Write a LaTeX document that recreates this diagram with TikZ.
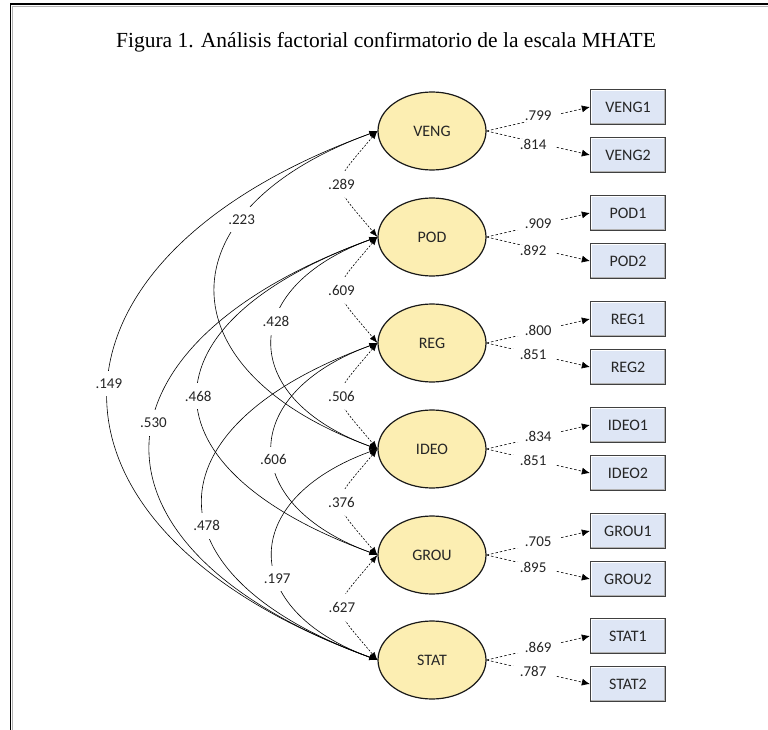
\documentclass[tikz,border=0pt]{standalone}
\usepackage{fontspec}
\setsansfont{Carlito}
\newfontfamily\titlefont{Liberation Serif}
\usepackage{tikz}
\usetikzlibrary{arrows.meta,positioning,shapes.geometric}
\definecolor{factorfill}{RGB}{252,238,178}
\definecolor{itemfill}{RGB}{222,230,245}
\tikzset{
	factor/.style={ellipse,draw=black!90,line width=1.2pt,fill=factorfill,minimum width=108pt,minimum height=78pt,inner sep=0pt,font=\fontsize{16}{18}\sffamily,text=black!85},
	item/.style={rectangle,draw=black!75,line width=1.3pt,fill=itemfill,minimum width=75pt,minimum height=35pt,inner sep=0pt,font=\fontsize{16}{18}\sffamily,text=black!85,
		path picture={
			\draw[white,line width=3pt] (path picture bounding box.south west) -- (path picture bounding box.north west) -- (path picture bounding box.north east);
			\draw[black!30,line width=3pt] (path picture bounding box.north east) -- (path picture bounding box.south east) -- (path picture bounding box.south west);
		}},
	loading/.style={->,>={Latex[length=8pt,width=7pt]},dash pattern=on 2.5pt off 2pt,line width=0.6pt},
	cov/.style={<->,>={Latex[length=8pt,width=6pt]},line width=0.6pt,out=200,in=160},
	adjcov/.style={cov,dash pattern=on 2pt off 1.5pt,out=230,in=130,looseness=1.8},
	coeflabel/.style={fill=white,font=\fontsize{15}{18}\sffamily,text=black!85,inner xsep=2pt,inner ysep=8pt},
	loadlabel/.style={fill=white,font=\fontsize{15}{18}\sffamily,text=black!85,inner xsep=9pt,inner ysep=1pt},
	figtitle/.style={font=\fontsize{21.5}{25}\titlefont}
}
\begin{document}
\begin{tikzpicture}[x=1pt,y=1pt]
	\useasboundingbox (0,0) rectangle (768,-730);
	%%% frame
	\draw[line width=1.5pt] (10.5,-730) -- (10.5,-4) -- (768,-4);
	\draw[black!30,line width=0.8pt] (12.5,-730) -- (12.5,-6.5) -- (768,-6.5);
	\node[figtitle] (title) at (386,-42) {Figura 1. Análisis factorial confirmatorio de la escala MHATE};

	%%% factors
	\node[factor] (veng) at (432,-131) {VENG};
	\node[factor] (pod) at (432,-237) {POD};
	\node[factor] (reg) at (432,-343) {REG};
	\node[factor] (ideo) at (432,-449) {IDEO};
	\node[factor] (grou) at (432,-555) {GROU};
	\node[factor] (stat) at (432,-660) {STAT};

	%%% items
	\node[item] (veng1) at (628,-107) {VENG1};
	\node[item] (veng2) at (628,-155) {VENG2};
	\node[item] (pod1) at (628,-213) {POD1};
	\node[item] (pod2) at (628,-261) {POD2};
	\node[item] (reg1) at (628,-319) {REG1};
	\node[item] (reg2) at (628,-367) {REG2};
	\node[item] (ideo1) at (628,-425) {IDEO1};
	\node[item] (ideo2) at (628,-473) {IDEO2};
	\node[item] (grou1) at (628,-531) {GROU1};
	\node[item] (grou2) at (628,-579) {GROU2};
	\node[item] (stat1) at (628,-636) {STAT1};
	\node[item] (stat2) at (628,-684) {STAT2};

	%%% loadings
	\draw[loading] (veng.east) -- node[loadlabel,yshift=3pt] {.799} (veng1.west);
	\draw[loading] (veng.east) -- node[loadlabel,pos=.45,yshift=-3pt] {.814} (veng2.west);
	\draw[loading] (pod.east) -- node[loadlabel,yshift=1pt] {.909} (pod1.west);
	\draw[loading] (pod.east) -- node[loadlabel,pos=.45,yshift=-3pt] {.892} (pod2.west);
	\draw[loading] (reg.east) -- node[loadlabel,yshift=1pt] {.800} (reg1.west);
	\draw[loading] (reg.east) -- node[loadlabel,pos=.45,yshift=-1pt] {.851} (reg2.west);
	\draw[loading] (ideo.east) -- node[loadlabel,yshift=1pt] {.834} (ideo1.west);
	\draw[loading] (ideo.east) -- node[loadlabel,pos=.45,yshift=-1pt] {.851} (ideo2.west);
	\draw[loading] (grou.east) -- node[loadlabel,yshift=1pt] {.705} (grou1.west);
	\draw[loading] (grou.east) -- node[loadlabel,pos=.45,yshift=-2pt] {.895} (grou2.west);
	\draw[loading] (stat.east) -- node[loadlabel,yshift=1pt] {.869} (stat1.west);
	\draw[loading] (stat.east) -- node[loadlabel,pos=.45,yshift=-1pt] {.787} (stat2.west);

	%%% covariances
	\draw[cov,looseness=1.85] (veng.west) to node[coeflabel,pos=.48] {.149} (stat.west);
	\draw[cov,looseness=1.95] (pod.west) to node[coeflabel,pos=.445] {.530} (stat.west);
	\draw[cov,looseness=1.85] (veng.west) to node[coeflabel,pos=.3] {.223} (ideo.west);
	\draw[cov,looseness=2.05] (pod.west) to node[coeflabel,pos=.5] {.468} (grou.west);
	\draw[cov,looseness=2] (reg.west) to node[coeflabel,pos=.57] {.478} (stat.west);
	\draw[cov,looseness=1.8] (pod.west) to node[coeflabel,pos=.41] {.428} (ideo.west);
	\draw[cov,looseness=1.8] (reg.west) to node[coeflabel,pos=.545] {.606} (grou.west);
	\draw[cov,looseness=1.8] (ideo.west) to node[coeflabel,pos=.6] {.197} (stat.west);
	\draw[adjcov] (veng.west) to node[coeflabel] {.289} (pod.west);
	\draw[adjcov] (pod.west) to node[coeflabel] {.609} (reg.west);
	\draw[adjcov] (reg.west) to node[coeflabel] {.506} (ideo.west);
	\draw[adjcov] (ideo.west) to node[coeflabel] {.376} (grou.west);
	\draw[adjcov] (grou.west) to node[coeflabel] {.627} (stat.west);
\end{tikzpicture}
\end{document}
